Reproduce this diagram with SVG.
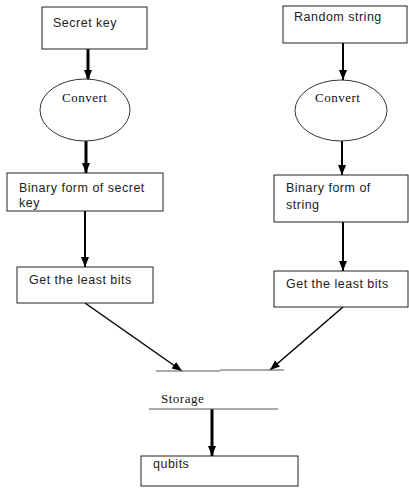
<svg xmlns="http://www.w3.org/2000/svg" width="409" height="489" viewBox="0 0 409 489">
<style>
.box{fill:#fff;stroke:#222;stroke-width:1}
.ell{fill:#fff;stroke:#333;stroke-width:1}
.sans{font-family:"Liberation Sans",Arial,sans-serif;font-size:12.5px;fill:#222;letter-spacing:0.5px}
.serif{font-family:"Liberation Serif","Times New Roman",serif;font-size:13px;fill:#111;letter-spacing:0.5px}
.c{stroke:#000;fill:none}
.thick{stroke-width:3}
.med{stroke-width:2}
.thin{stroke-width:1.5}
.rule{stroke:#555;stroke-width:1;fill:none}
</style>
<defs>
<marker id="ah" markerUnits="userSpaceOnUse" markerWidth="10" markerHeight="10" viewBox="0 0 10 10" refX="10" refY="5" orient="auto">
<path d="M0,1 L10,5 L0,9 Z" fill="#000"/>
</marker>
</defs>
<g id="connectors">
<line class="c thick" x1="88" y1="49" x2="88" y2="80" marker-end="url(#ah)"/>
<line class="c med" x1="343" y1="43" x2="343" y2="80" marker-end="url(#ah)"/>
<line class="c thick" x1="86" y1="141" x2="86" y2="173" marker-end="url(#ah)"/>
<line class="c med" x1="342" y1="141" x2="342" y2="175" marker-end="url(#ah)"/>
<line class="c med" x1="85" y1="211" x2="85" y2="267" marker-end="url(#ah)"/>
<line class="c med" x1="343" y1="218" x2="343" y2="271" marker-end="url(#ah)"/>
<line class="c thin" x1="85" y1="303" x2="182" y2="371" marker-end="url(#ah)"/>
<line class="c thin" x1="343" y1="307" x2="270" y2="370" marker-end="url(#ah)"/>
<line class="c thick" x1="212" y1="409" x2="212" y2="456" marker-end="url(#ah)"/>
</g>
<g id="secret-key">
<rect class="box" x="42" y="7" width="105" height="42"/>
<text class="sans" x="53" y="27">Secret key</text>
</g>
<g id="random-string">
<rect class="box" x="283" y="6" width="124" height="37"/>
<text class="sans" x="294" y="21">Random string</text>
</g>
<g id="convert-left">
<ellipse class="ell" cx="85" cy="110" rx="45" ry="31"/>
<text class="serif" x="62" y="102">Convert</text>
</g>
<g id="convert-right">
<ellipse class="ell" cx="341" cy="110.5" rx="46" ry="30.5"/>
<text class="serif" x="315" y="102">Convert</text>
</g>
<g id="binary-left">
<rect class="box" x="7" y="173" width="156" height="38"/>
<text class="sans" x="19" y="192">Binary form of secret</text>
<text class="sans" x="19" y="207">key</text>
</g>
<g id="binary-right">
<rect class="box" x="274" y="175" width="134" height="47"/>
<text class="sans" x="286" y="192">Binary form of</text>
<text class="sans" x="286" y="209">string</text>
</g>
<g id="least-left">
<rect class="box" x="17" y="267" width="136" height="36"/>
<text class="sans" x="29" y="284">Get the least bits</text>
</g>
<g id="least-right">
<rect class="box" x="274" y="271" width="134" height="36"/>
<text class="sans" x="286" y="288">Get the least bits</text>
</g>
<g id="storage">
<line class="rule" x1="156" y1="371" x2="220" y2="371"/>
<line class="rule" x1="220" y1="370" x2="284" y2="370"/>
<text class="serif" x="161" y="403">Storage</text>
<line class="rule" x1="149" y1="409" x2="278" y2="409"/>
</g>
<g id="qubits">
<rect class="box" x="141" y="456" width="157" height="30"/>
<text class="sans" x="153" y="468">qubits</text>
</g>
</svg>
